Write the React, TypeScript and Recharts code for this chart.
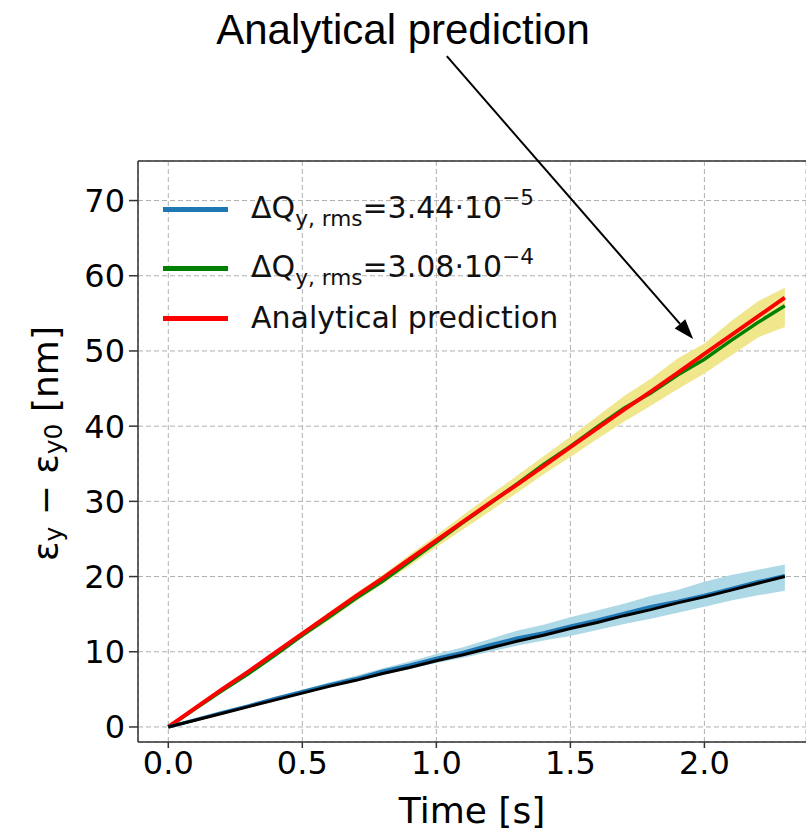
import {
  ComposedChart,
  Line,
  Area,
  XAxis,
  YAxis,
  CartesianGrid,
  ReferenceLine,
} from "recharts";

// time axis [s]
const TIME = [0, 0.1, 0.2, 0.3, 0.4, 0.5, 0.6, 0.7, 0.8, 0.9, 1.0, 1.1, 1.2, 1.3, 1.4, 1.5, 1.6, 1.7, 1.8, 1.9, 2.0, 2.1, 2.2, 2.3];

// small tune spread (blue) and its analytical curve (black)
const BLUE_MEAN = [0, 0.95, 1.9, 2.8, 3.8, 4.7, 5.6, 6.4, 7.4, 8.2, 9.1, 9.9, 10.9, 11.8, 12.5, 13.4, 14.2, 15.1, 16.0, 16.7, 17.5, 18.4, 19.3, 20.1];
const BLUE_LOW = [0, 0.85, 1.75, 2.6, 3.5, 4.4, 5.25, 6.05, 6.95, 7.7, 8.5, 9.2, 10.0, 10.8, 11.5, 12.1, 12.9, 13.7, 14.4, 15.2, 16.0, 16.8, 17.5, 18.1];
const BLUE_HIGH = [0, 1.05, 2.05, 3.0, 4.0, 4.95, 5.9, 6.8, 7.8, 8.7, 9.7, 10.6, 11.7, 12.8, 13.6, 14.6, 15.5, 16.4, 17.4, 18.2, 19.3, 20.2, 20.9, 21.6];
const BLACK_PRED = [0, 0.9, 1.8, 2.7, 3.6, 4.5, 5.4, 6.2, 7.1, 7.9, 8.8, 9.6, 10.5, 11.4, 12.2, 13.1, 13.9, 14.8, 15.6, 16.5, 17.3, 18.2, 19.1, 20.0];

// large tune spread (green) and its analytical curve (red)
const GREEN_MEAN = [0, 2.4, 4.8, 7.1, 9.6, 12.2, 14.6, 17.1, 19.4, 22.0, 24.6, 27.2, 29.7, 32.3, 34.9, 37.3, 39.9, 42.4, 44.4, 46.8, 48.9, 51.4, 53.8, 56.0];
const GREEN_LOW = [0, 2.35, 4.7, 7.0, 9.4, 11.9, 14.2, 16.7, 19.0, 21.4, 23.9, 26.3, 28.7, 31.1, 33.6, 35.9, 38.3, 40.6, 42.7, 44.9, 47.0, 49.4, 51.8, 53.2];
const GREEN_HIGH = [0, 2.6, 5.1, 7.5, 10.1, 12.7, 15.3, 17.8, 20.2, 22.9, 25.5, 28.2, 30.8, 33.4, 36.0, 38.6, 41.3, 44.0, 46.3, 49.0, 51.0, 54.0, 56.6, 58.4];
const RED_PRED = [0, 2.5, 5.0, 7.4, 9.9, 12.4, 14.9, 17.4, 19.8, 22.3, 24.8, 27.3, 29.8, 32.2, 34.7, 37.2, 39.7, 42.2, 44.6, 47.1, 49.6, 52.1, 54.6, 57.1];

const X_TICKS = [0, 0.5, 1.0, 1.5, 2.0];
const Y_TICKS = [0, 10, 20, 30, 40, 50, 60, 70];
const X_DOMAIN = [-0.113, 2.379];
const Y_DOMAIN = [-2, 75.26];

// annotation arrow, in data coordinates
const ARROW_FROM = { t: 1.039, v: 89.2 };
const ARROW_TO = { t: 1.958, v: 51.6 };

const FONT = "'DejaVu Sans', sans-serif";

const data = TIME.map((t, i) => ({
  t,
  blue: BLUE_MEAN[i],
  blueBand: [BLUE_LOW[i], BLUE_HIGH[i]],
  black: BLACK_PRED[i],
  green: GREEN_MEAN[i],
  greenBand: [GREEN_LOW[i], GREEN_HIGH[i]],
  red: RED_PRED[i],
}));

function ArrowShape(props: any) {
  const { x1, y1, x2, y2 } = props;
  const dx = x2 - x1;
  const dy = y2 - y1;
  const len = Math.hypot(dx, dy) || 1;
  const ux = dx / len;
  const uy = dy / len;
  const headLen = 20;
  const headW = 7;
  const bx = x2 - ux * headLen;
  const by = y2 - uy * headLen;
  const px = -uy;
  const py = ux;
  return (
    <g>
      <line x1={x1} y1={y1} x2={bx} y2={by} stroke="#000" strokeWidth={2} />
      <polygon
        points={`${x2},${y2} ${bx + px * headW},${by + py * headW} ${bx - px * headW},${by - py * headW}`}
        fill="#000"
      />
    </g>
  );
}

function YLabel(props: any) {
  const vb = props.viewBox || { x: 0, y: 161, width: 138, height: 581 };
  const cx = 45;
  const cy = vb.y + vb.height / 2 - 8;
  return (
    <text
      x={cx}
      y={cy}
      transform={`rotate(-90, ${cx}, ${cy})`}
      textAnchor="middle"
      dominantBaseline="central"
      fontFamily={FONT}
      fontSize={36}
      fill="#000"
    >
      <tspan>ε</tspan>
      <tspan fontSize={25} dy={8}>y</tspan>
      <tspan dy={-8}> − ε</tspan>
      <tspan fontSize={25} dy={8}>y0</tspan>
      <tspan dy={-8}> [nm]</tspan>
    </text>
  );
}

const LEGEND_ROWS = [
  { color: "#1f77b4", top: 209, value: "3.44", exp: "−5" },
  { color: "#008000", top: 268, value: "3.08", exp: "−4" },
  { color: "#ff0000", top: 318, value: null, exp: null },
];

function LegendBox() {
  return (
    <>
      {LEGEND_ROWS.map((r, i) => (
        <div
          key={i}
          style={{
            position: "absolute",
            left: 163,
            top: r.top - 18,
            height: 36,
            display: "flex",
            alignItems: "center",
            fontFamily: FONT,
            fontSize: 30,
            lineHeight: "36px",
            color: "#111",
            whiteSpace: "nowrap",
          }}
        >
          <div style={{ width: 65, height: 5, background: r.color, marginRight: 23 }} />
          {r.value ? (
            <span>
              ΔQ
              <span style={{ fontSize: "0.72em", position: "relative", top: "0.38em" }}>y, rms</span>
              ={r.value}·10
              <span style={{ fontSize: "0.72em", position: "relative", top: "-0.6em" }}>{r.exp}</span>
            </span>
          ) : (
            <span>Analytical prediction</span>
          )}
        </div>
      ))}
    </>
  );
}

export default function App() {
  return (
    <div style={{ position: "absolute", left: 0, top: 0, width: 806, height: 830, background: "#fff", overflow: "hidden" }}>
      <ComposedChart
        width={806}
        height={830}
        data={data}
        margin={{ top: 161, right: 0, bottom: 0, left: 0 }}
      >
        <CartesianGrid stroke="#b0b0b0" strokeDasharray="5 3" strokeWidth={1} />
        <XAxis
          dataKey="t"
          type="number"
          domain={X_DOMAIN}
          ticks={X_TICKS}
          tickFormatter={(v: number) => v.toFixed(1)}
          height={88}
          tickSize={6}
          tickMargin={3}
          stroke="#333"
          strokeWidth={1.5}
          tick={{ fontFamily: FONT, fontSize: 32, fill: "#000" }}
          allowDataOverflow
          label={{ value: "Time [s]", position: "insideBottom", offset: 7, fontFamily: FONT, fontSize: 36, fill: "#000" }}
        />
        <YAxis
          type="number"
          domain={Y_DOMAIN}
          ticks={Y_TICKS}
          width={138}
          tickSize={9}
          tickMargin={4}
          stroke="#333"
          strokeWidth={1.5}
          tick={{ fontFamily: FONT, fontSize: 32, fill: "#000" }}
          allowDataOverflow
          label={<YLabel />}
        />
        <ReferenceLine y={Y_DOMAIN[1]} stroke="#333" strokeWidth={1.5} ifOverflow="visible" />

        <Area dataKey="greenBand" fill="#f0e68c" fillOpacity={1} stroke="none" isAnimationActive={false} />
        <Line dataKey="green" stroke="#008000" strokeWidth={3.5} dot={false} isAnimationActive={false} />
        <Line dataKey="red" stroke="#ff0000" strokeWidth={4} dot={false} isAnimationActive={false} />

        <Area dataKey="blueBand" fill="#add8e6" fillOpacity={1} stroke="none" isAnimationActive={false} />
        <Line dataKey="blue" stroke="#1f77b4" strokeWidth={3.5} dot={false} isAnimationActive={false} />
        <Line dataKey="black" stroke="#000" strokeWidth={3} dot={false} isAnimationActive={false} />

        <ReferenceLine
          segment={[
            { x: ARROW_FROM.t, y: ARROW_FROM.v },
            { x: ARROW_TO.t, y: ARROW_TO.v },
          ]}
          ifOverflow="visible"
          shape={ArrowShape}
        />
      </ComposedChart>
      <LegendBox />
      <div
        style={{
          position: "absolute",
          left: 0,
          width: 806,
          top: 4,
          textAlign: "center",
          fontFamily: "'Liberation Sans', Arial, sans-serif",
          fontSize: 42,
          color: "#000",
          lineHeight: "52px",
        }}
      >
        Analytical prediction
      </div>
    </div>
  );
}
